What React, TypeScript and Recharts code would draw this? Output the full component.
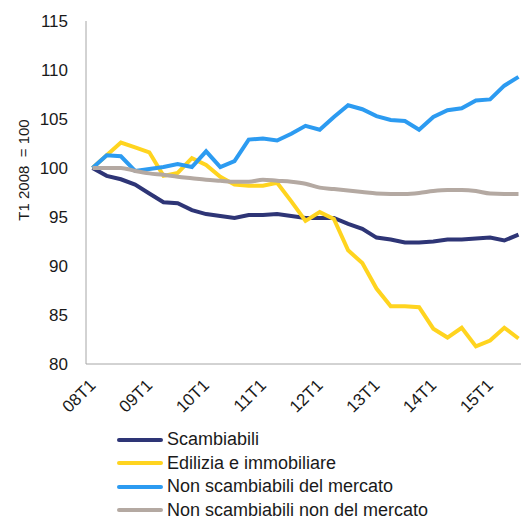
import React from "react";
import { LineChart, Line, XAxis, YAxis, Label } from "recharts";

const QUARTERS = [
  "08T1", "08T2", "08T3", "08T4",
  "09T1", "09T2", "09T3", "09T4",
  "10T1", "10T2", "10T3", "10T4",
  "11T1", "11T2", "11T3", "11T4",
  "12T1", "12T2", "12T3", "12T4",
  "13T1", "13T2", "13T3", "13T4",
  "14T1", "14T2", "14T3", "14T4",
  "15T1", "15T2", "15T3",
];

const SCAMBIABILI = [
  100, 99.2, 98.85, 98.3, 97.4, 96.5, 96.4, 95.7, 95.3, 95.1, 94.9, 95.2,
  95.2, 95.3, 95.1, 94.9, 94.9, 94.9, 94.3, 93.8, 92.9, 92.7, 92.4, 92.4,
  92.5, 92.7, 92.7, 92.8, 92.9, 92.6, 93.2,
];

const EDILIZIA = [
  100, 101.3, 102.6, 102.1, 101.6, 99.2, 99.5, 101.0, 100.3, 99.1, 98.3, 98.2,
  98.2, 98.5, 96.6, 94.6, 95.5, 94.8, 91.6, 90.3, 87.7, 85.9, 85.9, 85.8,
  83.6, 82.7, 83.7, 81.8, 82.4, 83.7, 82.6,
];

const NON_SCAMB_MERCATO = [
  100, 101.3, 101.2, 99.7, 99.9, 100.1, 100.4, 100.1, 101.7, 100.1, 100.7,
  102.9, 103.0, 102.8, 103.5, 104.3, 103.9, 105.2, 106.4, 106.0, 105.3, 104.9,
  104.8, 103.9, 105.2, 105.9, 106.1, 106.9, 107.0, 108.4, 109.3,
];

const NON_SCAMB_NON_MERCATO = [
  100, 100.0, 100.0, 99.7, 99.45, 99.3, 99.1, 98.95, 98.8, 98.7, 98.6, 98.6,
  98.8, 98.7, 98.6, 98.4, 98.0, 97.85, 97.7, 97.55, 97.4, 97.35, 97.35, 97.45,
  97.65, 97.75, 97.75, 97.65, 97.4, 97.35, 97.35,
];

const Y_TICKS = [80, 85, 90, 95, 100, 105, 110, 115];

const SERIES = [
  { key: "scambiabili", label: "Scambiabili", color: "#2e3576", values: SCAMBIABILI, curve: "linear" },
  { key: "edilizia", label: "Edilizia e immobiliare", color: "#ffd41f", values: EDILIZIA, curve: "linear" },
  { key: "nonScambMercato", label: "Non scambiabili del mercato", color: "#2c9bf1", values: NON_SCAMB_MERCATO, curve: "linear" },
  { key: "nonScambNonMercato", label: "Non scambiabili non del mercato", color: "#b4a9a2", values: NON_SCAMB_NON_MERCATO, curve: "monotone" },
] as const;

const FONT = '"Liberation Sans", Arial, sans-serif';
const AXIS_COLOR = "#a6a6a6";
const TEXT_COLOR = "#1a1a1a";

const rows = QUARTERS.map((q, i) => {
  const row: Record<string, string | number> = { quarter: q };
  SERIES.forEach((s) => {
    row[s.key] = s.values[i];
  });
  return row;
});

function QuarterTick({ x, y, payload }: any) {
  return (
    <g transform={`translate(${x},${y})`}>
      <text
        x={0}
        y={0}
        dy="0.35em"
        textAnchor="end"
        transform="translate(0,18) rotate(-45)"
        fill={TEXT_COLOR}
        fontSize={17}
        fontFamily={FONT}
      >
        {payload.value}
      </text>
    </g>
  );
}

function AxisTitle() {
  return (
    <text
      x={23}
      y={170}
      transform="rotate(-90 23 170)"
      textAnchor="middle"
      dominantBaseline="central"
      fill={TEXT_COLOR}
      fontSize={15}
      fontFamily={FONT}
      style={{ whiteSpace: "pre" }}
    >
      {"T1 2008  = 100"}
    </text>
  );
}

export default function App() {
  return (
    <div style={{ position: "absolute", left: 0, top: 0, width: 523, height: 520, background: "#fff" }}>
      <LineChart
        width={523}
        height={420}
        data={rows}
        margin={{ top: 21, right: 2, left: 0, bottom: 0 }}
      >
        <XAxis
          dataKey="quarter"
          interval={3}
          height={56}
          padding={{ left: 6.5, right: 2.5 }}
          axisLine={{ stroke: AXIS_COLOR }}
          tickLine={false}
          tickSize={0}
          tickMargin={0}
          tick={<QuarterTick />}
        />
        <YAxis
          type="number"
          domain={[80, 115]}
          ticks={Y_TICKS}
          width={86}
          axisLine={{ stroke: AXIS_COLOR }}
          tickLine={false}
          tickSize={0}
          tickMargin={18}
          tick={{ fill: TEXT_COLOR, fontSize: 17, fontFamily: FONT }}
        >
          <Label content={<AxisTitle />} />
        </YAxis>
        {SERIES.map((s) => (
          <Line
            key={s.key}
            dataKey={s.key}
            type={s.curve}
            stroke={s.color}
            strokeWidth={4}
            dot={false}
            activeDot={false}
            isAnimationActive={false}
          />
        ))}
      </LineChart>

      <div style={{ position: "absolute", left: 117, top: 428, fontFamily: FONT, fontSize: 18, color: TEXT_COLOR }}>
        {SERIES.map((s) => (
          <div key={s.key} style={{ display: "flex", alignItems: "center", height: 23.5 }}>
            <div style={{ width: 46, height: 4, borderRadius: 2, background: s.color, marginRight: 4 }} />
            <span>{s.label}</span>
          </div>
        ))}
      </div>
    </div>
  );
}
